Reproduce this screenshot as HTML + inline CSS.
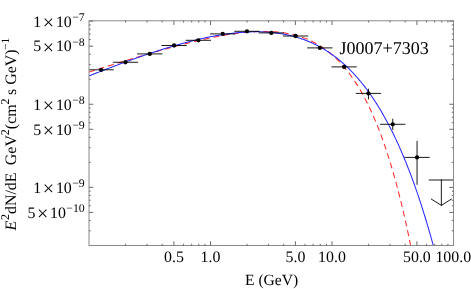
<!DOCTYPE html>
<html><head><meta charset="utf-8"><title>J0007+7303</title>
<style>html,body{margin:0;padding:0;background:#fff;overflow:hidden}body{width:471px;height:289px;position:relative;font-family:"Liberation Serif",serif}svg{display:block}</style>
</head><body>
<svg width="471" height="289" viewBox="0 0 471 289" style="position:absolute;left:0;top:0;will-change:transform">
<rect width="471" height="289" fill="#fff"/>
<defs><clipPath id="c"><rect x="89.0" y="20.8" width="364.5" height="224.7"/></clipPath></defs>
<g clip-path="url(#c)" fill="none">
<polyline points="89.00,72.09 89.61,71.89 90.22,71.70 90.83,71.51 91.43,71.32 92.04,71.12 92.65,70.93 93.26,70.74 93.87,70.55 94.48,70.36 95.09,70.17 95.69,69.97 96.30,69.78 96.91,69.59 97.52,69.40 98.13,69.21 98.74,69.02 99.34,68.83 99.95,68.64 100.56,68.45 101.17,68.26 101.78,68.07 102.39,67.88 103.00,67.69 103.60,67.50 104.21,67.31 104.82,67.12 105.43,66.93 106.04,66.74 106.65,66.55 107.26,66.36 107.86,66.17 108.47,65.98 109.08,65.79 109.69,65.60 110.30,65.41 110.91,65.22 111.52,65.03 112.12,64.85 112.73,64.66 113.34,64.47 113.95,64.28 114.56,64.09 115.17,63.91 115.77,63.72 116.38,63.53 116.99,63.34 117.60,63.16 118.21,62.97 118.82,62.78 119.43,62.60 120.03,62.41 120.64,62.22 121.25,62.04 121.86,61.85 122.47,61.66 123.08,61.48 123.69,61.29 124.29,61.11 124.90,60.92 125.51,60.74 126.12,60.55 126.73,60.37 127.34,60.18 127.94,60.00 128.55,59.81 129.16,59.63 129.77,59.44 130.38,59.26 130.99,59.08 131.60,58.89 132.20,58.71 132.81,58.53 133.42,58.34 134.03,58.16 134.64,57.98 135.25,57.80 135.86,57.61 136.46,57.43 137.07,57.25 137.68,57.07 138.29,56.89 138.90,56.71 139.51,56.53 140.12,56.35 140.72,56.17 141.33,55.99 141.94,55.81 142.55,55.63 143.16,55.45 143.77,55.27 144.37,55.09 144.98,54.91 145.59,54.73 146.20,54.55 146.81,54.37 147.42,54.20 148.03,54.02 148.63,53.84 149.24,53.66 149.85,53.49 150.46,53.31 151.07,53.14 151.68,52.96 152.29,52.78 152.89,52.61 153.50,52.43 154.11,52.26 154.72,52.08 155.33,51.91 155.94,51.74 156.55,51.56 157.15,51.39 157.76,51.22 158.37,51.04 158.98,50.87 159.59,50.70 160.20,50.53 160.80,50.35 161.41,50.18 162.02,50.01 162.63,49.84 163.24,49.67 163.85,49.50 164.46,49.33 165.06,49.16 165.67,48.99 166.28,48.83 166.89,48.66 167.50,48.49 168.11,48.32 168.72,48.16 169.32,47.99 169.93,47.82 170.54,47.66 171.15,47.49 171.76,47.33 172.37,47.16 172.97,47.00 173.58,46.84 174.19,46.67 174.80,46.51 175.41,46.35 176.02,46.18 176.63,46.02 177.23,45.86 177.84,45.70 178.45,45.54 179.06,45.38 179.67,45.22 180.28,45.06 180.89,44.90 181.49,44.75 182.10,44.59 182.71,44.43 183.32,44.28 183.93,44.12 184.54,43.96 185.15,43.81 185.75,43.65 186.36,43.50 186.97,43.35 187.58,43.19 188.19,43.04 188.80,42.89 189.40,42.74 190.01,42.59 190.62,42.44 191.23,42.29 191.84,42.14 192.45,41.99 193.06,41.84 193.66,41.70 194.27,41.55 194.88,41.40 195.49,41.26 196.10,41.11 196.71,40.97 197.32,40.83 197.92,40.68 198.53,40.54 199.14,40.40 199.75,40.26 200.36,40.12 200.97,39.98 201.58,39.84 202.18,39.70 202.79,39.57 203.40,39.43 204.01,39.29 204.62,39.16 205.23,39.02 205.83,38.89 206.44,38.76 207.05,38.63 207.66,38.50 208.27,38.36 208.88,38.24 209.49,38.11 210.09,37.98 210.70,37.85 211.31,37.73 211.92,37.60 212.53,37.48 213.14,37.35 213.75,37.23 214.35,37.11 214.96,36.99 215.57,36.87 216.18,36.75 216.79,36.63 217.40,36.51 218.01,36.39 218.61,36.28 219.22,36.16 219.83,36.05 220.44,35.94 221.05,35.83 221.66,35.72 222.26,35.61 222.87,35.50 223.48,35.39 224.09,35.29 224.70,35.18 225.31,35.08 225.92,34.97 226.52,34.87 227.13,34.77 227.74,34.67 228.35,34.57 228.96,34.48 229.57,34.38 230.18,34.29 230.78,34.19 231.39,34.10 232.00,34.01 232.61,33.92 233.22,33.83 233.83,33.74 234.43,33.66 235.04,33.57 235.65,33.49 236.26,33.41 236.87,33.33 237.48,33.25 238.09,33.17 238.69,33.09 239.30,33.02 239.91,32.94 240.52,32.87 241.13,32.80 241.74,32.73 242.35,32.66 242.95,32.60 243.56,32.53 244.17,32.47 244.78,32.41 245.39,32.35 246.00,32.29 246.61,32.24 247.21,32.18 247.82,32.13 248.43,32.08 249.04,32.03 249.65,31.98 250.26,31.93 250.86,31.89 251.47,31.85 252.08,31.80 252.69,31.77 253.30,31.73 253.91,31.69 254.52,31.66 255.12,31.63 255.73,31.60 256.34,31.57 256.95,31.55 257.56,31.52 258.17,31.50 258.78,31.48 259.38,31.46 259.99,31.45 260.60,31.44 261.21,31.43 261.82,31.42 262.43,31.41 263.04,31.41 263.64,31.40 264.25,31.40 264.86,31.41 265.47,31.41 266.08,31.42 266.69,31.43 267.29,31.44 267.90,31.46 268.51,31.47 269.12,31.49 269.73,31.52 270.34,31.54 270.95,31.57 271.55,31.60 272.16,31.63 272.77,31.67 273.38,31.70 273.99,31.75 274.60,31.79 275.21,31.84 275.81,31.88 276.42,31.94 277.03,31.99 277.64,32.05 278.25,32.11 278.86,32.18 279.46,32.24 280.07,32.31 280.68,32.39 281.29,32.46 281.90,32.54 282.51,32.63 283.12,32.71 283.72,32.80 284.33,32.90 284.94,32.99 285.55,33.09 286.16,33.19 286.77,33.30 287.38,33.41 287.98,33.53 288.59,33.64 289.20,33.76 289.81,33.89 290.42,34.02 291.03,34.15 291.64,34.29 292.24,34.43 292.85,34.57 293.46,34.72 294.07,34.87 294.68,35.03 295.29,35.19 295.89,35.35 296.50,35.52 297.11,35.70 297.72,35.87 298.33,36.06 298.94,36.24 299.55,36.43 300.15,36.63 300.76,36.83 301.37,37.03 301.98,37.24 302.59,37.46 303.20,37.67 303.81,37.90 304.41,38.13 305.02,38.36 305.63,38.60 306.24,38.84 306.85,39.09 307.46,39.34 308.07,39.60 308.67,39.87 309.28,40.14 309.89,40.41 310.50,40.69 311.11,40.98 311.72,41.27 312.32,41.57 312.93,41.87 313.54,42.18 314.15,42.50 314.76,42.82 315.37,43.15 315.98,43.48 316.58,43.82 317.19,44.17 317.80,44.52 318.41,44.88 319.02,45.24 319.63,45.61 320.24,45.99 320.84,46.38 321.45,46.77 322.06,47.17 322.67,47.57 323.28,47.99 323.89,48.41 324.49,48.83 325.10,49.27 325.71,49.71 326.32,50.16 326.93,50.61 327.54,51.08 328.15,51.55 328.75,52.03 329.36,52.52 329.97,53.01 330.58,53.51 331.19,54.03 331.80,54.55 332.41,55.07 333.01,55.61 333.62,56.15 334.23,56.71 334.84,57.27 335.45,57.84 336.06,58.42 336.67,59.01 337.27,59.61 337.88,60.22 338.49,60.84 339.10,61.46 339.71,62.10 340.32,62.74 340.92,63.40 341.53,64.07 342.14,64.74 342.75,65.43 343.36,66.12 343.97,66.83 344.58,67.55 345.18,68.27 345.79,69.01 346.40,69.76 347.01,70.52 347.62,71.29 348.23,72.07 348.84,72.87 349.44,73.67 350.05,74.49 350.66,75.32 351.27,76.16 351.88,77.01 352.49,77.88 353.10,78.76 353.70,79.65 354.31,80.55 354.92,81.46 355.53,82.39 356.14,83.33 356.75,84.29 357.35,85.26 357.96,86.24 358.57,87.23 359.18,88.24 359.79,89.27 360.40,90.30 361.01,91.36 361.61,92.42 362.22,93.50 362.83,94.60 363.44,95.71 364.05,96.84 364.66,97.98 365.27,99.13 365.87,100.31 366.48,101.50 367.09,102.70 367.70,103.92 368.31,105.16 368.92,106.41 369.53,107.68 370.13,108.97 370.74,110.28 371.35,111.60 371.96,112.94 372.57,114.30 373.18,115.67 373.78,117.07 374.39,118.48 375.00,119.91 375.61,121.36 376.22,122.83 376.83,124.32 377.44,125.83 378.04,127.36 378.65,128.91 379.26,130.48 379.87,132.07 380.48,133.68 381.09,135.31 381.70,136.96 382.30,138.64 382.91,140.33 383.52,142.05 384.13,143.79 384.74,145.55 385.35,147.34 385.95,149.15 386.56,150.98 387.17,152.83 387.78,154.71 388.39,156.61 389.00,158.54 389.61,160.49 390.21,162.47 390.82,164.47 391.43,166.50 392.04,168.55 392.65,170.63 393.26,172.74 393.87,174.87 394.47,177.03 395.08,179.22 395.69,181.43 396.30,183.68 396.91,185.95 397.52,188.25 398.13,190.58 398.73,192.94 399.34,195.32 399.95,197.74 400.56,200.19 401.17,202.67 401.78,205.18 402.38,207.72 402.99,210.30 403.60,212.90 404.21,215.54 404.82,218.21 405.43,220.91 406.04,223.65 406.64,226.42 407.25,229.23 407.86,232.07 408.47,234.95 409.08,237.86 409.69,240.81 410.30,243.79 410.90,246.82 411.51,249.88 412.12,252.97 412.73,256.11 413.34,259.28 413.95,262.50" stroke="#ff2424" stroke-width="1.02" stroke-dasharray="5.97 3.98"/>
<polyline points="89.00,75.96 89.61,75.72 90.22,75.48 90.83,75.24 91.43,74.99 92.04,74.75 92.65,74.51 93.26,74.27 93.87,74.03 94.48,73.79 95.09,73.55 95.69,73.31 96.30,73.07 96.91,72.83 97.52,72.60 98.13,72.36 98.74,72.12 99.34,71.88 99.95,71.65 100.56,71.41 101.17,71.17 101.78,70.94 102.39,70.70 103.00,70.46 103.60,70.23 104.21,69.99 104.82,69.76 105.43,69.52 106.04,69.29 106.65,69.06 107.26,68.82 107.86,68.59 108.47,68.36 109.08,68.12 109.69,67.89 110.30,67.66 110.91,67.43 111.52,67.20 112.12,66.96 112.73,66.73 113.34,66.50 113.95,66.27 114.56,66.04 115.17,65.82 115.77,65.59 116.38,65.36 116.99,65.13 117.60,64.90 118.21,64.68 118.82,64.45 119.43,64.22 120.03,64.00 120.64,63.77 121.25,63.54 121.86,63.32 122.47,63.09 123.08,62.87 123.69,62.65 124.29,62.42 124.90,62.20 125.51,61.98 126.12,61.75 126.73,61.53 127.34,61.31 127.94,61.09 128.55,60.87 129.16,60.65 129.77,60.43 130.38,60.21 130.99,59.99 131.60,59.77 132.20,59.56 132.81,59.34 133.42,59.12 134.03,58.90 134.64,58.69 135.25,58.47 135.86,58.26 136.46,58.04 137.07,57.83 137.68,57.61 138.29,57.40 138.90,57.19 139.51,56.98 140.12,56.76 140.72,56.55 141.33,56.34 141.94,56.13 142.55,55.92 143.16,55.71 143.77,55.50 144.37,55.29 144.98,55.09 145.59,54.88 146.20,54.67 146.81,54.47 147.42,54.26 148.03,54.06 148.63,53.85 149.24,53.65 149.85,53.44 150.46,53.24 151.07,53.04 151.68,52.84 152.29,52.63 152.89,52.43 153.50,52.23 154.11,52.03 154.72,51.83 155.33,51.64 155.94,51.44 156.55,51.24 157.15,51.04 157.76,50.85 158.37,50.65 158.98,50.46 159.59,50.26 160.20,50.07 160.80,49.88 161.41,49.69 162.02,49.49 162.63,49.30 163.24,49.11 163.85,48.92 164.46,48.73 165.06,48.54 165.67,48.36 166.28,48.17 166.89,47.98 167.50,47.80 168.11,47.61 168.72,47.43 169.32,47.25 169.93,47.06 170.54,46.88 171.15,46.70 171.76,46.52 172.37,46.34 172.97,46.16 173.58,45.98 174.19,45.80 174.80,45.63 175.41,45.45 176.02,45.27 176.63,45.10 177.23,44.93 177.84,44.75 178.45,44.58 179.06,44.41 179.67,44.24 180.28,44.07 180.89,43.90 181.49,43.73 182.10,43.56 182.71,43.40 183.32,43.23 183.93,43.07 184.54,42.90 185.15,42.74 185.75,42.58 186.36,42.41 186.97,42.25 187.58,42.09 188.19,41.93 188.80,41.78 189.40,41.62 190.01,41.46 190.62,41.31 191.23,41.15 191.84,41.00 192.45,40.85 193.06,40.70 193.66,40.54 194.27,40.40 194.88,40.25 195.49,40.10 196.10,39.95 196.71,39.81 197.32,39.66 197.92,39.52 198.53,39.37 199.14,39.23 199.75,39.09 200.36,38.95 200.97,38.81 201.58,38.68 202.18,38.54 202.79,38.40 203.40,38.27 204.01,38.14 204.62,38.00 205.23,37.87 205.83,37.74 206.44,37.61 207.05,37.49 207.66,37.36 208.27,37.23 208.88,37.11 209.49,36.99 210.09,36.86 210.70,36.74 211.31,36.62 211.92,36.51 212.53,36.39 213.14,36.27 213.75,36.16 214.35,36.04 214.96,35.93 215.57,35.82 216.18,35.71 216.79,35.60 217.40,35.49 218.01,35.39 218.61,35.28 219.22,35.18 219.83,35.08 220.44,34.98 221.05,34.88 221.66,34.78 222.26,34.68 222.87,34.59 223.48,34.49 224.09,34.40 224.70,34.31 225.31,34.22 225.92,34.13 226.52,34.05 227.13,33.96 227.74,33.88 228.35,33.79 228.96,33.71 229.57,33.63 230.18,33.55 230.78,33.48 231.39,33.40 232.00,33.33 232.61,33.26 233.22,33.19 233.83,33.12 234.43,33.05 235.04,32.99 235.65,32.92 236.26,32.86 236.87,32.80 237.48,32.74 238.09,32.68 238.69,32.63 239.30,32.57 239.91,32.52 240.52,32.47 241.13,32.42 241.74,32.37 242.35,32.33 242.95,32.28 243.56,32.24 244.17,32.20 244.78,32.16 245.39,32.13 246.00,32.09 246.61,32.06 247.21,32.03 247.82,32.00 248.43,31.97 249.04,31.94 249.65,31.92 250.26,31.90 250.86,31.88 251.47,31.86 252.08,31.85 252.69,31.83 253.30,31.82 253.91,31.81 254.52,31.80 255.12,31.80 255.73,31.79 256.34,31.79 256.95,31.79 257.56,31.80 258.17,31.80 258.78,31.81 259.38,31.82 259.99,31.83 260.60,31.84 261.21,31.86 261.82,31.87 262.43,31.89 263.04,31.92 263.64,31.94 264.25,31.97 264.86,32.00 265.47,32.03 266.08,32.06 266.69,32.10 267.29,32.14 267.90,32.18 268.51,32.22 269.12,32.27 269.73,32.32 270.34,32.37 270.95,32.42 271.55,32.48 272.16,32.54 272.77,32.60 273.38,32.66 273.99,32.73 274.60,32.80 275.21,32.87 275.81,32.94 276.42,33.02 277.03,33.10 277.64,33.18 278.25,33.26 278.86,33.35 279.46,33.44 280.07,33.54 280.68,33.63 281.29,33.73 281.90,33.83 282.51,33.94 283.12,34.04 283.72,34.15 284.33,34.27 284.94,34.38 285.55,34.50 286.16,34.63 286.77,34.75 287.38,34.88 287.98,35.01 288.59,35.15 289.20,35.28 289.81,35.42 290.42,35.57 291.03,35.72 291.64,35.87 292.24,36.02 292.85,36.18 293.46,36.34 294.07,36.50 294.68,36.67 295.29,36.84 295.89,37.01 296.50,37.19 297.11,37.37 297.72,37.55 298.33,37.74 298.94,37.93 299.55,38.13 300.15,38.33 300.76,38.53 301.37,38.73 301.98,38.94 302.59,39.16 303.20,39.37 303.81,39.59 304.41,39.82 305.02,40.05 305.63,40.28 306.24,40.51 306.85,40.75 307.46,41.00 308.07,41.24 308.67,41.50 309.28,41.75 309.89,42.01 310.50,42.27 311.11,42.54 311.72,42.81 312.32,43.09 312.93,43.37 313.54,43.66 314.15,43.94 314.76,44.24 315.37,44.54 315.98,44.84 316.58,45.14 317.19,45.45 317.80,45.77 318.41,46.09 319.02,46.41 319.63,46.74 320.24,47.08 320.84,47.42 321.45,47.76 322.06,48.11 322.67,48.46 323.28,48.81 323.89,49.18 324.49,49.54 325.10,49.92 325.71,50.29 326.32,50.67 326.93,51.06 327.54,51.45 328.15,51.85 328.75,52.25 329.36,52.66 329.97,53.07 330.58,53.49 331.19,53.91 331.80,54.34 332.41,54.77 333.01,55.21 333.62,55.66 334.23,56.11 334.84,56.56 335.45,57.02 336.06,57.49 336.67,57.96 337.27,58.44 337.88,58.92 338.49,59.41 339.10,59.91 339.71,60.41 340.32,60.92 340.92,61.43 341.53,61.95 342.14,62.47 342.75,63.00 343.36,63.54 343.97,64.09 344.58,64.64 345.18,65.19 345.79,65.75 346.40,66.32 347.01,66.90 347.62,67.48 348.23,68.07 348.84,68.66 349.44,69.27 350.05,69.87 350.66,70.49 351.27,71.11 351.88,71.74 352.49,72.38 353.10,73.02 353.70,73.67 354.31,74.32 354.92,74.99 355.53,75.66 356.14,76.34 356.75,77.02 357.35,77.72 357.96,78.42 358.57,79.12 359.18,79.84 359.79,80.56 360.40,81.29 361.01,82.03 361.61,82.78 362.22,83.53 362.83,84.29 363.44,85.06 364.05,85.84 364.66,86.62 365.27,87.41 365.87,88.22 366.48,89.03 367.09,89.84 367.70,90.67 368.31,91.50 368.92,92.35 369.53,93.20 370.13,94.06 370.74,94.93 371.35,95.81 371.96,96.69 372.57,97.59 373.18,98.49 373.78,99.41 374.39,100.33 375.00,101.26 375.61,102.20 376.22,103.15 376.83,104.11 377.44,105.08 378.04,106.06 378.65,107.04 379.26,108.04 379.87,109.05 380.48,110.06 381.09,111.09 381.70,112.13 382.30,113.17 382.91,114.23 383.52,115.30 384.13,116.38 384.74,117.46 385.35,118.56 385.95,119.67 386.56,120.79 387.17,121.92 387.78,123.06 388.39,124.21 389.00,125.37 389.61,126.54 390.21,127.73 390.82,128.92 391.43,130.13 392.04,131.35 392.65,132.57 393.26,133.81 393.87,135.07 394.47,136.33 395.08,137.61 395.69,138.89 396.30,140.19 396.91,141.50 397.52,142.83 398.13,144.16 398.73,145.51 399.34,146.87 399.95,148.24 400.56,149.63 401.17,151.02 401.78,152.43 402.38,153.86 402.99,155.29 403.60,156.74 404.21,158.21 404.82,159.68 405.43,161.17 406.04,162.67 406.64,164.19 407.25,165.72 407.86,167.26 408.47,168.82 409.08,170.39 409.69,171.98 410.30,173.58 410.90,175.19 411.51,176.82 412.12,178.46 412.73,180.12 413.34,181.79 413.95,183.48 414.56,185.18 415.16,186.90 415.77,188.63 416.38,190.38 416.99,192.14 417.60,193.92 418.21,195.71 418.81,197.52 419.42,199.35 420.03,201.19 420.64,203.05 421.25,204.92 421.86,206.81 422.47,208.72 423.07,210.64 423.68,212.58 424.29,214.54 424.90,216.52 425.51,218.51 426.12,220.52 426.73,222.54 427.33,224.59 427.94,226.65 428.55,228.73 429.16,230.83 429.77,232.94 430.38,235.07 430.98,237.23 431.59,239.40 432.20,241.59 432.81,243.79 433.42,246.02 434.03,248.27 434.64,250.53 435.24,252.82 435.85,255.12 436.46,257.44 437.07,259.79 437.68,262.15 438.29,264.54" stroke="#2424ff" stroke-width="1.02"/>
</g>
<g clip-path="url(#c)" stroke="#000" stroke-width="0.9" stroke-linecap="square" fill="none">
<line x1="89.00" y1="69.80" x2="113.30" y2="69.80"/>
<line x1="113.30" y1="62.25" x2="137.60" y2="62.25"/>
<line x1="137.60" y1="53.90" x2="161.90" y2="53.90"/>
<line x1="161.90" y1="45.50" x2="186.20" y2="45.50"/>
<line x1="186.20" y1="40.30" x2="210.50" y2="40.30"/>
<line x1="210.50" y1="33.90" x2="234.80" y2="33.90"/>
<line x1="234.80" y1="31.30" x2="259.10" y2="31.30"/>
<line x1="259.10" y1="32.90" x2="283.40" y2="32.90"/>
<line x1="283.40" y1="36.00" x2="307.70" y2="36.00"/>
<line x1="307.70" y1="47.90" x2="332.00" y2="47.90"/>
<line x1="332.00" y1="66.90" x2="356.30" y2="66.90"/>
<line x1="356.30" y1="93.40" x2="380.60" y2="93.40"/>
<line x1="368.45" y1="89.20" x2="368.45" y2="98.90"/>
<line x1="380.60" y1="124.30" x2="404.90" y2="124.30"/>
<line x1="392.75" y1="119.20" x2="392.75" y2="129.40"/>
<line x1="404.90" y1="157.40" x2="429.20" y2="157.40"/>
<line x1="417.05" y1="141.40" x2="417.05" y2="184.30"/>
<line x1="429.20" y1="180.0" x2="453.50" y2="180.0"/>
<line x1="441.35" y1="180.0" x2="441.35" y2="205.4"/>
<polyline points="431.35,199.1 441.35,205.4 451.35,199.1"/>
</g>
<g fill="#000">
<circle cx="101.15" cy="69.80" r="2.15"/>
<circle cx="125.45" cy="62.25" r="2.15"/>
<circle cx="149.75" cy="53.90" r="2.15"/>
<circle cx="174.05" cy="45.50" r="2.15"/>
<circle cx="198.35" cy="40.30" r="2.15"/>
<circle cx="222.65" cy="33.90" r="2.15"/>
<circle cx="246.95" cy="31.30" r="2.15"/>
<circle cx="271.25" cy="32.90" r="2.15"/>
<circle cx="295.55" cy="36.00" r="2.15"/>
<circle cx="319.85" cy="47.90" r="2.15"/>
<circle cx="344.15" cy="66.90" r="2.15"/>
<circle cx="368.45" cy="93.40" r="2.15"/>
<circle cx="392.75" cy="124.30" r="2.15"/>
<circle cx="417.05" cy="157.40" r="2.15"/>
</g>
<g stroke="#8a8a8a" stroke-width="1" fill="none">
<rect x="89.0" y="20.8" width="364.5" height="224.7"/>
</g>
<g stroke="#6a6a6a" stroke-width="1" fill="none">
<line x1="125.58" y1="245.5" x2="125.58" y2="243.8"/>
<line x1="125.58" y1="20.8" x2="125.58" y2="22.5"/>
<line x1="146.97" y1="245.5" x2="146.97" y2="243.8"/>
<line x1="146.97" y1="20.8" x2="146.97" y2="22.5"/>
<line x1="162.15" y1="245.5" x2="162.15" y2="243.8"/>
<line x1="162.15" y1="20.8" x2="162.15" y2="22.5"/>
<line x1="173.92" y1="245.5" x2="173.92" y2="241.3"/>
<line x1="173.92" y1="20.8" x2="173.92" y2="25.0"/>
<line x1="183.55" y1="245.5" x2="183.55" y2="243.8"/>
<line x1="183.55" y1="20.8" x2="183.55" y2="22.5"/>
<line x1="191.68" y1="245.5" x2="191.68" y2="243.8"/>
<line x1="191.68" y1="20.8" x2="191.68" y2="22.5"/>
<line x1="198.73" y1="245.5" x2="198.73" y2="243.8"/>
<line x1="198.73" y1="20.8" x2="198.73" y2="22.5"/>
<line x1="204.94" y1="245.5" x2="204.94" y2="243.8"/>
<line x1="204.94" y1="20.8" x2="204.94" y2="22.5"/>
<line x1="210.50" y1="245.5" x2="210.50" y2="241.3"/>
<line x1="210.50" y1="20.8" x2="210.50" y2="25.0"/>
<line x1="247.08" y1="245.5" x2="247.08" y2="243.8"/>
<line x1="247.08" y1="20.8" x2="247.08" y2="22.5"/>
<line x1="268.47" y1="245.5" x2="268.47" y2="243.8"/>
<line x1="268.47" y1="20.8" x2="268.47" y2="22.5"/>
<line x1="283.65" y1="245.5" x2="283.65" y2="243.8"/>
<line x1="283.65" y1="20.8" x2="283.65" y2="22.5"/>
<line x1="295.42" y1="245.5" x2="295.42" y2="241.3"/>
<line x1="295.42" y1="20.8" x2="295.42" y2="25.0"/>
<line x1="305.05" y1="245.5" x2="305.05" y2="243.8"/>
<line x1="305.05" y1="20.8" x2="305.05" y2="22.5"/>
<line x1="313.18" y1="245.5" x2="313.18" y2="243.8"/>
<line x1="313.18" y1="20.8" x2="313.18" y2="22.5"/>
<line x1="320.23" y1="245.5" x2="320.23" y2="243.8"/>
<line x1="320.23" y1="20.8" x2="320.23" y2="22.5"/>
<line x1="326.44" y1="245.5" x2="326.44" y2="243.8"/>
<line x1="326.44" y1="20.8" x2="326.44" y2="22.5"/>
<line x1="332.00" y1="245.5" x2="332.00" y2="241.3"/>
<line x1="332.00" y1="20.8" x2="332.00" y2="25.0"/>
<line x1="368.58" y1="245.5" x2="368.58" y2="243.8"/>
<line x1="368.58" y1="20.8" x2="368.58" y2="22.5"/>
<line x1="389.97" y1="245.5" x2="389.97" y2="243.8"/>
<line x1="389.97" y1="20.8" x2="389.97" y2="22.5"/>
<line x1="405.15" y1="245.5" x2="405.15" y2="243.8"/>
<line x1="405.15" y1="20.8" x2="405.15" y2="22.5"/>
<line x1="416.92" y1="245.5" x2="416.92" y2="241.3"/>
<line x1="416.92" y1="20.8" x2="416.92" y2="25.0"/>
<line x1="426.55" y1="245.5" x2="426.55" y2="243.8"/>
<line x1="426.55" y1="20.8" x2="426.55" y2="22.5"/>
<line x1="434.68" y1="245.5" x2="434.68" y2="243.8"/>
<line x1="434.68" y1="20.8" x2="434.68" y2="22.5"/>
<line x1="441.73" y1="245.5" x2="441.73" y2="243.8"/>
<line x1="441.73" y1="20.8" x2="441.73" y2="22.5"/>
<line x1="447.94" y1="245.5" x2="447.94" y2="243.8"/>
<line x1="447.94" y1="20.8" x2="447.94" y2="22.5"/>
<line x1="89.0" y1="230.80" x2="90.7" y2="230.80"/>
<line x1="453.5" y1="230.80" x2="451.8" y2="230.80"/>
<line x1="89.0" y1="220.42" x2="90.7" y2="220.42"/>
<line x1="453.5" y1="220.42" x2="451.8" y2="220.42"/>
<line x1="89.0" y1="212.37" x2="93.2" y2="212.37"/>
<line x1="453.5" y1="212.37" x2="449.3" y2="212.37"/>
<line x1="89.0" y1="205.79" x2="90.7" y2="205.79"/>
<line x1="453.5" y1="205.79" x2="451.8" y2="205.79"/>
<line x1="89.0" y1="200.22" x2="90.7" y2="200.22"/>
<line x1="453.5" y1="200.22" x2="451.8" y2="200.22"/>
<line x1="89.0" y1="195.40" x2="90.7" y2="195.40"/>
<line x1="453.5" y1="195.40" x2="451.8" y2="195.40"/>
<line x1="89.0" y1="191.15" x2="90.7" y2="191.15"/>
<line x1="453.5" y1="191.15" x2="451.8" y2="191.15"/>
<line x1="89.0" y1="187.35" x2="93.2" y2="187.35"/>
<line x1="453.5" y1="187.35" x2="449.3" y2="187.35"/>
<line x1="89.0" y1="162.33" x2="90.7" y2="162.33"/>
<line x1="453.5" y1="162.33" x2="451.8" y2="162.33"/>
<line x1="89.0" y1="147.70" x2="90.7" y2="147.70"/>
<line x1="453.5" y1="147.70" x2="451.8" y2="147.70"/>
<line x1="89.0" y1="137.32" x2="90.7" y2="137.32"/>
<line x1="453.5" y1="137.32" x2="451.8" y2="137.32"/>
<line x1="89.0" y1="129.27" x2="93.2" y2="129.27"/>
<line x1="453.5" y1="129.27" x2="449.3" y2="129.27"/>
<line x1="89.0" y1="122.69" x2="90.7" y2="122.69"/>
<line x1="453.5" y1="122.69" x2="451.8" y2="122.69"/>
<line x1="89.0" y1="117.12" x2="90.7" y2="117.12"/>
<line x1="453.5" y1="117.12" x2="451.8" y2="117.12"/>
<line x1="89.0" y1="112.30" x2="90.7" y2="112.30"/>
<line x1="453.5" y1="112.30" x2="451.8" y2="112.30"/>
<line x1="89.0" y1="108.05" x2="90.7" y2="108.05"/>
<line x1="453.5" y1="108.05" x2="451.8" y2="108.05"/>
<line x1="89.0" y1="104.25" x2="93.2" y2="104.25"/>
<line x1="453.5" y1="104.25" x2="449.3" y2="104.25"/>
<line x1="89.0" y1="79.23" x2="90.7" y2="79.23"/>
<line x1="453.5" y1="79.23" x2="451.8" y2="79.23"/>
<line x1="89.0" y1="64.60" x2="90.7" y2="64.60"/>
<line x1="453.5" y1="64.60" x2="451.8" y2="64.60"/>
<line x1="89.0" y1="54.22" x2="90.7" y2="54.22"/>
<line x1="453.5" y1="54.22" x2="451.8" y2="54.22"/>
<line x1="89.0" y1="46.17" x2="93.2" y2="46.17"/>
<line x1="453.5" y1="46.17" x2="449.3" y2="46.17"/>
<line x1="89.0" y1="39.59" x2="90.7" y2="39.59"/>
<line x1="453.5" y1="39.59" x2="451.8" y2="39.59"/>
<line x1="89.0" y1="34.02" x2="90.7" y2="34.02"/>
<line x1="453.5" y1="34.02" x2="451.8" y2="34.02"/>
<line x1="89.0" y1="29.20" x2="90.7" y2="29.20"/>
<line x1="453.5" y1="29.20" x2="451.8" y2="29.20"/>
<line x1="89.0" y1="24.95" x2="90.7" y2="24.95"/>
<line x1="453.5" y1="24.95" x2="451.8" y2="24.95"/>
<line x1="89.0" y1="21.1" x2="93.2" y2="21.1"/>
<line x1="453.5" y1="21.1" x2="449.3" y2="21.1"/>
</g>
<g font-family="'Liberation Serif', serif" fill="#000" font-size="15.9" text-rendering="geometricPrecision">
<text x="173.92" y="261.8" text-anchor="middle">0.5</text>
<text x="210.50" y="261.8" text-anchor="middle">1.0</text>
<text x="295.42" y="261.8" text-anchor="middle">5.0</text>
<text x="332.00" y="261.8" text-anchor="middle">10.0</text>
<text x="416.92" y="261.8" text-anchor="middle">50.0</text>
<text x="453.30" y="261.8" text-anchor="middle">100.0</text>
<text y="26.75"><tspan x="33.30">1</tspan><tspan x="42.80" dy="2.6" font-size="20">×</tspan><tspan x="55.90" dy="-2.6">10</tspan><tspan x="72.20" font-size="11.8" dy="-5.5">−7</tspan></text>
<text y="51.36"><tspan x="33.30">5</tspan><tspan x="42.80" dy="2.6" font-size="20">×</tspan><tspan x="55.90" dy="-2.6">10</tspan><tspan x="72.20" font-size="11.8" dy="-5.5">−8</tspan></text>
<text y="109.55"><tspan x="33.30">1</tspan><tspan x="42.80" dy="2.6" font-size="20">×</tspan><tspan x="55.90" dy="-2.6">10</tspan><tspan x="72.20" font-size="11.8" dy="-5.5">−8</tspan></text>
<text y="134.62"><tspan x="33.30">5</tspan><tspan x="42.80" dy="2.6" font-size="20">×</tspan><tspan x="55.90" dy="-2.6">10</tspan><tspan x="72.20" font-size="11.8" dy="-5.5">−9</tspan></text>
<text y="192.81"><tspan x="33.30">1</tspan><tspan x="42.80" dy="2.6" font-size="20">×</tspan><tspan x="55.90" dy="-2.6">10</tspan><tspan x="72.20" font-size="11.8" dy="-5.5">−9</tspan></text>
<text y="217.87"><tspan x="27.40">5</tspan><tspan x="36.90" dy="2.6" font-size="20">×</tspan><tspan x="50.00" dy="-2.6">10</tspan><tspan x="66.30" font-size="11.8" dy="-5.5">−10</tspan></text>
<text x="271.6" y="284.6" text-anchor="middle" font-size="15.6">E (GeV)</text>
<text x="339.5" y="53.8" font-size="18">J0007+7303</text>
<text transform="translate(16.2,230.4) rotate(-90)"><tspan font-style="italic">E</tspan><tspan font-size="12.0" dx="0.8" dy="-7.2">2</tspan><tspan dx="-0.1" dy="7.2">dN/dE&#160;&#160;</tspan><tspan dx="-0.6">GeV</tspan><tspan font-size="12.0" dy="-7.2">2</tspan><tspan dy="7.2">(cm</tspan><tspan font-size="12.0" dy="-7.2">2</tspan><tspan dx="-0.5" dy="7.2"> s GeV)</tspan><tspan font-size="11.3" dx="-0.3" dy="-7.2">−1</tspan></text>
</g>
</svg>
</body></html>
